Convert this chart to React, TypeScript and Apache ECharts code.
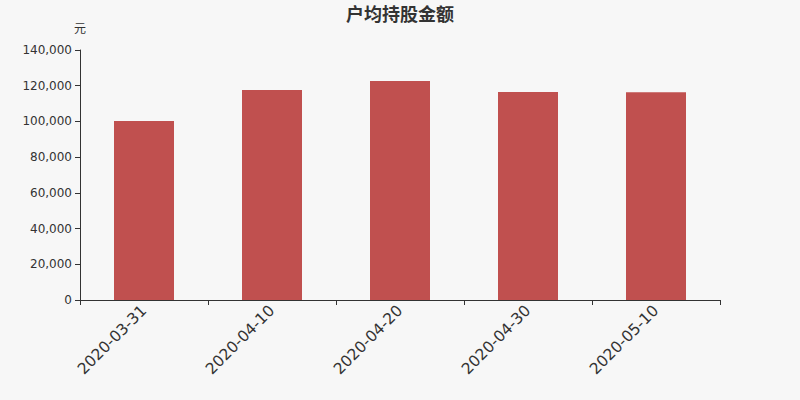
import React, { useEffect, useRef } from "react";
import * as echarts from "echarts";

const categories = ["2020-03-31", "2020-04-10", "2020-04-20", "2020-04-30", "2020-05-10"];
const values = [100200, 117600, 122600, 116500, 116400];
const titleText = "户均持股金额";
const unitName = "元";

const FONT = "'DejaVu Sans', 'Noto Sans CJK SC', sans-serif";

export default function App() {
  const ref = useRef<HTMLDivElement>(null);
  useEffect(() => {
    if (!ref.current) return;
    const chart = echarts.init(ref.current, null, { renderer: "svg" });
    chart.setOption({
      animation: false,
      backgroundColor: "#f7f7f7",
      textStyle: { fontFamily: FONT },
      title: {
        text: titleText,
        left: "center",
        top: 0,
        textStyle: { fontSize: 18, fontWeight: "bold", color: "#333", fontFamily: FONT },
      },
      grid: { left: 80, right: 80, top: 50, bottom: 100 },
      xAxis: {
        type: "category",
        data: categories,
        axisLine: { lineStyle: { color: "#333" } },
        axisTick: { show: true, alignWithLabel: false, length: 5 },
        axisLabel: { rotate: 45, fontSize: 15.5, color: "#333", margin: 8, fontFamily: FONT },
      },
      yAxis: {
        type: "value",
        name: unitName,
        nameGap: 15,
        nameTextStyle: { color: "#333", fontSize: 12, align: "center", fontFamily: FONT },
        min: 0,
        max: 140000,
        interval: 20000,
        axisLine: { show: true, lineStyle: { color: "#333" } },
        axisTick: { show: true, length: 5 },
        splitLine: { show: false },
        axisLabel: {
          color: "#333",
          fontSize: 12,
          fontFamily: FONT,
          formatter: (v: number) => v.toLocaleString("en-US"),
        },
      },
      series: [
        {
          type: "bar",
          data: values,
          barWidth: 60,
          itemStyle: { color: "#c0504f" },
        },
      ],
    });
    return () => chart.dispose();
  }, []);
  return (
    <div
      ref={ref}
      style={{ position: "fixed", left: 0, top: 0, width: 800, height: 400 }}
    />
  );
}
